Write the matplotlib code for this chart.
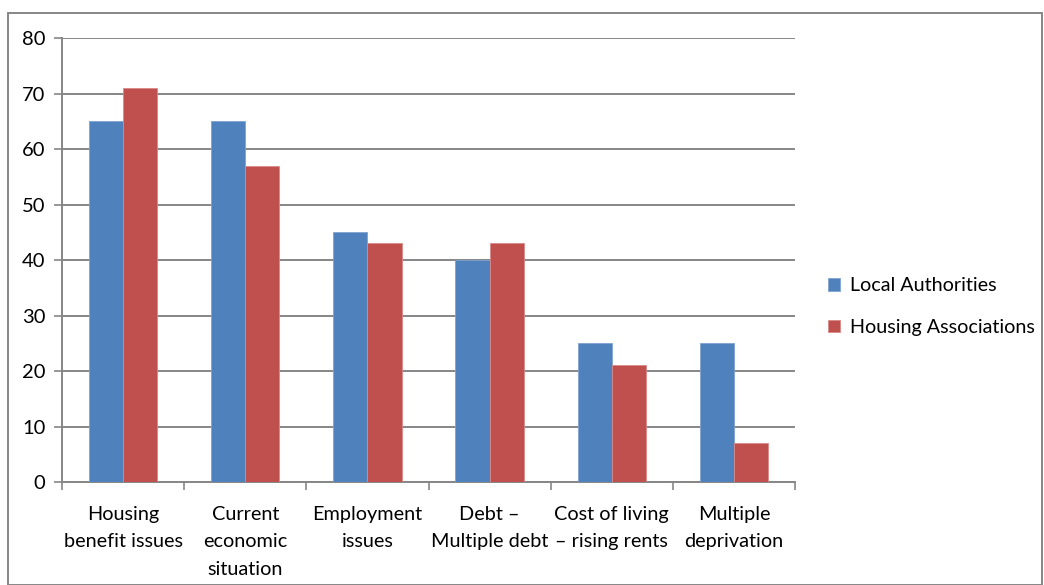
import numpy as np
import matplotlib.pyplot as plt
from matplotlib.patches import Rectangle

plt.rcParams['font.family'] = ['Lato', 'DejaVu Sans']

categories = ['Housing\nbenefit issues', 'Current\neconomic\nsituation', 'Employment\nissues',
              'Debt –\nMultiple debt', 'Cost of living\n– rising rents', 'Multiple\ndeprivation']
local_authorities = [65, 65, 45, 40, 25, 25]
housing_associations = [71, 57, 43, 43, 21, 7]
series_names = ['Local Authorities', 'Housing Associations']

blue = '#4F81BD'
red = '#C0504D'
grid_grey = '#868686'

fig = plt.figure(figsize=(10.44, 5.85), dpi=100)
ax = fig.add_axes([0.0594, 0.176, 0.7021, 0.759])

x = np.arange(len(categories))
w = 0.28
ax.bar(x - w / 2, local_authorities, w, color=blue, edgecolor='#7FA3D0', linewidth=0.6,
       label=series_names[0], zorder=3)
ax.bar(x + w / 2, housing_associations, w, color=red, edgecolor='#D98A88', linewidth=0.6,
       label=series_names[1], zorder=3)

ax.set_xlim(-0.5, len(categories) - 0.5)
ax.set_ylim(0, 80)
ax.set_yticks(range(0, 81, 10))
ax.yaxis.grid(True, color=grid_grey, linewidth=1.4, zorder=0)

# category labels between boundary tick marks
ax.set_xticks(np.arange(-0.5, len(categories), 1.0))
ax.set_xticklabels([])
ax.set_xticks(x, minor=True)
ax.set_xticklabels(categories, minor=True, fontsize=14.3, linespacing=1.75, va='top')
ax.tick_params(axis='x', which='minor', length=0, pad=17)
ax.tick_params(axis='x', which='major', length=6, width=1.2, color=grid_grey, direction='out')
ax.tick_params(axis='y', length=6, width=1.2, color=grid_grey, labelsize=14.5, pad=6)

for side in ['top', 'right']:
    ax.spines[side].set_visible(False)
for side in ['left', 'bottom']:
    ax.spines[side].set_color(grid_grey)
    ax.spines[side].set_linewidth(1.4)

fig.legend(loc='center left', bbox_to_anchor=(0.776, 0.476), frameon=False, fontsize=14.2,
           handlelength=0.62, handleheight=0.62, handletextpad=0.5, labelspacing=1.25)

# outer chart border
fig.patches.append(Rectangle((8 / 1044, 0), 1 - 10 / 1044, 1 - 13 / 585,
                             transform=fig.transFigure, fill=False,
                             edgecolor=grid_grey, linewidth=1.4))

fig.savefig('out.png', dpi=100)
